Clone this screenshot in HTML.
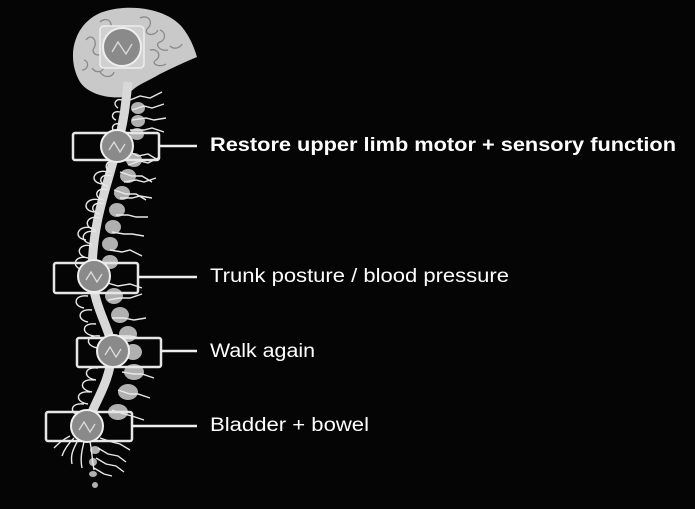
<!DOCTYPE html>
<html><head><style>
html,body{margin:0;padding:0;background:#000;}
svg{display:block;}
text{font-family:"Liberation Sans",Arial,sans-serif;fill:#fff;font-size:19px;}
</style></head><body>
<svg width="695" height="509" viewBox="0 0 695 509" xmlns="http://www.w3.org/2000/svg">
<rect width="695" height="509" fill="#050505"/>
<!-- brain -->
<path d="M80,82 C66,58 73,25 100,13 C125,3 165,7 182,27 C190,37 194,47 197,57 C185,62 172,68 160,74 C150,80 140,84 135,88 L124,97 C108,99 88,94 80,82 Z" fill="#c9c9c9"/>
<g fill="none" stroke="#8a8a8a" stroke-width="1.3">
<path d="M86,40 c6,-8 12,2 8,8 c-4,6 6,10 10,4"/>
<path d="M100,22 c6,-6 14,0 10,6 c-4,6 8,6 12,0"/>
<path d="M140,18 c8,-4 14,4 8,10 c-6,6 6,10 10,2"/>
<path d="M160,30 c6,2 6,10 0,12 c-6,2 0,10 8,8"/>
<path d="M150,50 c8,-2 12,6 6,10 c-6,4 4,8 10,4"/>
<path d="M84,60 c6,2 4,10 -2,10 m10,-2 c4,6 12,4 12,-2"/>
<path d="M100,72 c4,6 12,6 14,0"/>
<path d="M170,46 c4,4 10,2 12,-2"/>
</g>
<!-- cord -->
<path d="M128,82 L126,100 C124,120 120,135 116,150 C108,185 92,220 92,275 C94,310 112,330 112,352 C110,385 92,405 86,428" fill="none" stroke="#d8d8d8" stroke-width="9"/>
<!-- vertebrae -->
<g fill="#b0b0b0">
<ellipse cx="138" cy="108" rx="7" ry="6"/><ellipse cx="138" cy="121" rx="7" ry="6"/>
<ellipse cx="137" cy="134" rx="7" ry="6"/><ellipse cx="134" cy="160" rx="8" ry="7"/>
<ellipse cx="128" cy="176" rx="8" ry="7"/><ellipse cx="122" cy="193" rx="8" ry="7"/>
<ellipse cx="117" cy="210" rx="8" ry="7"/><ellipse cx="113" cy="227" rx="8" ry="7"/>
<ellipse cx="110" cy="244" rx="8" ry="7"/><ellipse cx="110" cy="262" rx="8" ry="7"/>
<ellipse cx="114" cy="296" rx="9" ry="8"/><ellipse cx="120" cy="315" rx="9" ry="8"/>
<ellipse cx="128" cy="334" rx="9" ry="8"/><ellipse cx="133" cy="352" rx="9" ry="8"/>
<ellipse cx="134" cy="372" rx="10" ry="8"/><ellipse cx="128" cy="392" rx="10" ry="8"/>
<ellipse cx="118" cy="412" rx="10" ry="8"/><ellipse cx="95" cy="450" rx="5" ry="4"/>
<ellipse cx="93" cy="462" rx="4" ry="4"/><ellipse cx="93" cy="474" rx="4" ry="3"/>
<ellipse cx="95" cy="485" rx="3" ry="3"/>
</g>
<!-- nerves right -->
<g fill="none" stroke="#e8e8e8" stroke-width="1.4">
<path d="M130,100 l10,-4 l10,2 l12,-6 M132,110 l12,-4 l8,2 l12,-4 M132,120 l14,-2 l8,2 l12,-2 M130,130 l14,0 l8,-2 l12,4"/>
<path d="M128,165 l12,-4 l8,2 l12,-6 M124,182 l12,-2 l8,2 l12,-4 M120,198 l12,0 l8,-2 l12,2 M116,215 l12,0 l8,2 l12,0 M112,232 l12,2 l8,0 l12,2 M110,250 l12,2 l8,-2 l12,6"/>
<path d="M126,150 l12,6 l10,-2 l10,6 M120,172 l12,4 l10,0 l10,6 M114,190 l12,4 l10,0 l10,6"/>
<path d="M108,300 l12,-2 l10,0 l12,-4 M112,318 l12,0 l10,2 l12,-2 M118,336 l12,0 l10,2 l12,0 M122,372 l12,2 l8,0 l12,4 M118,390 l12,4 l8,0 l12,4 M112,410 l12,4 l8,2 l12,4"/>
<path d="M104,282 l14,4 l12,-2 l12,4 M100,438 l12,4 l8,2 l10,6 M98,448 l10,6 l10,2 l8,6 M96,458 l10,6 l10,2 l8,6 M94,468 l10,6 l8,2"/>
</g>
<!-- nerves left loops -->
<g fill="none" stroke="#e8e8e8" stroke-width="1.4">
<path d="M122,100 c-6,-2 -10,4 -4,8 M120,112 c-8,-2 -10,6 -4,8 M120,124 c-8,-2 -10,6 -4,8"/>
<path d="M116,162 c-10,-4 -14,8 -4,10 M112,176 c-12,-4 -16,8 -4,10 M108,190 c-12,-4 -16,8 -4,10 M104,204 c-12,-4 -16,8 -4,10 M100,218 c-14,-4 -18,10 -4,12 M96,232 c-14,-4 -18,10 -4,12 M92,246 c-14,-4 -18,10 -4,12 M88,258 c-14,-4 -18,10 -4,12"/>
<path d="M108,172 c-14,-4 -20,10 -6,12 M100,200 c-14,-4 -20,10 -6,12 M92,228 c-14,-4 -20,10 -6,12"/>
<path d="M88,296 c-14,-2 -16,10 -4,12 M92,310 c-14,-2 -16,10 -4,12 M96,324 c-14,-2 -16,10 -2,12 M100,336 c-14,-2 -16,10 -2,12"/>
<path d="M98,368 c-14,-2 -16,10 -2,12 M94,380 c-14,-2 -16,10 -2,12 M90,392 c-14,-2 -16,10 -2,12 M84,404 c-14,-2 -16,10 -2,12"/>
<path d="M78,440 c-4,8 -8,14 -6,24 M84,442 c-2,8 -4,16 -2,26 M90,442 c2,8 2,18 4,28 M74,438 c-6,6 -10,12 -12,18 M70,436 c-8,4 -12,8 -16,12"/>
</g>
<!-- boxes -->
<g fill="none" stroke="#e6e6e6" stroke-width="2.5">
<rect x="73" y="133" width="86" height="27" rx="2"/>
<rect x="54" y="263" width="84" height="30" rx="2"/>
<rect x="77" y="338" width="84" height="29" rx="2"/>
<rect x="46" y="412" width="86" height="29" rx="2"/>
</g>
<g stroke="#eeeeee" stroke-width="2.5">
<line x1="159" y1="146" x2="197" y2="146"/>
<line x1="138" y1="277" x2="197" y2="277"/>
<line x1="161" y1="351" x2="197" y2="351"/>
<line x1="132" y1="426" x2="197" y2="426"/>
</g>
<!-- devices -->
<g>
<rect x="100" y="26" width="44" height="42" rx="4" fill="#d0d0d0" stroke="#eee" stroke-width="1.5"/>
<circle cx="122" cy="47" r="19" fill="#8a8a8a" stroke="#eee" stroke-width="2"/>
<path d="M112,52 l6,-10 l8,12 l6,-10" fill="none" stroke="#ddd" stroke-width="1.3"/>
</g>
<g fill="#8a8a8a" stroke="#eee" stroke-width="2">
<circle cx="117" cy="146" r="16"/>
<circle cx="94" cy="276" r="16"/>
<circle cx="113" cy="351" r="16"/>
<circle cx="87" cy="426" r="16"/>
</g>
<g fill="none" stroke="#ddd" stroke-width="1.3">
<path d="M109,150 l5,-8 l6,10 l5,-8"/>
<path d="M86,280 l5,-8 l6,10 l5,-8"/>
<path d="M105,355 l5,-8 l6,10 l5,-8"/>
<path d="M79,430 l5,-8 l6,10 l5,-8"/>
</g>
<!-- labels -->
<text x="210" y="151" font-weight="bold" textLength="466" lengthAdjust="spacingAndGlyphs">Restore upper limb motor + sensory function</text>
<text x="210" y="282" textLength="299" lengthAdjust="spacingAndGlyphs">Trunk posture / blood pressure</text>
<text x="210" y="357" textLength="105" lengthAdjust="spacingAndGlyphs">Walk again</text>
<text x="210" y="431" textLength="159" lengthAdjust="spacingAndGlyphs">Bladder + bowel</text>
</svg>
</body></html>
